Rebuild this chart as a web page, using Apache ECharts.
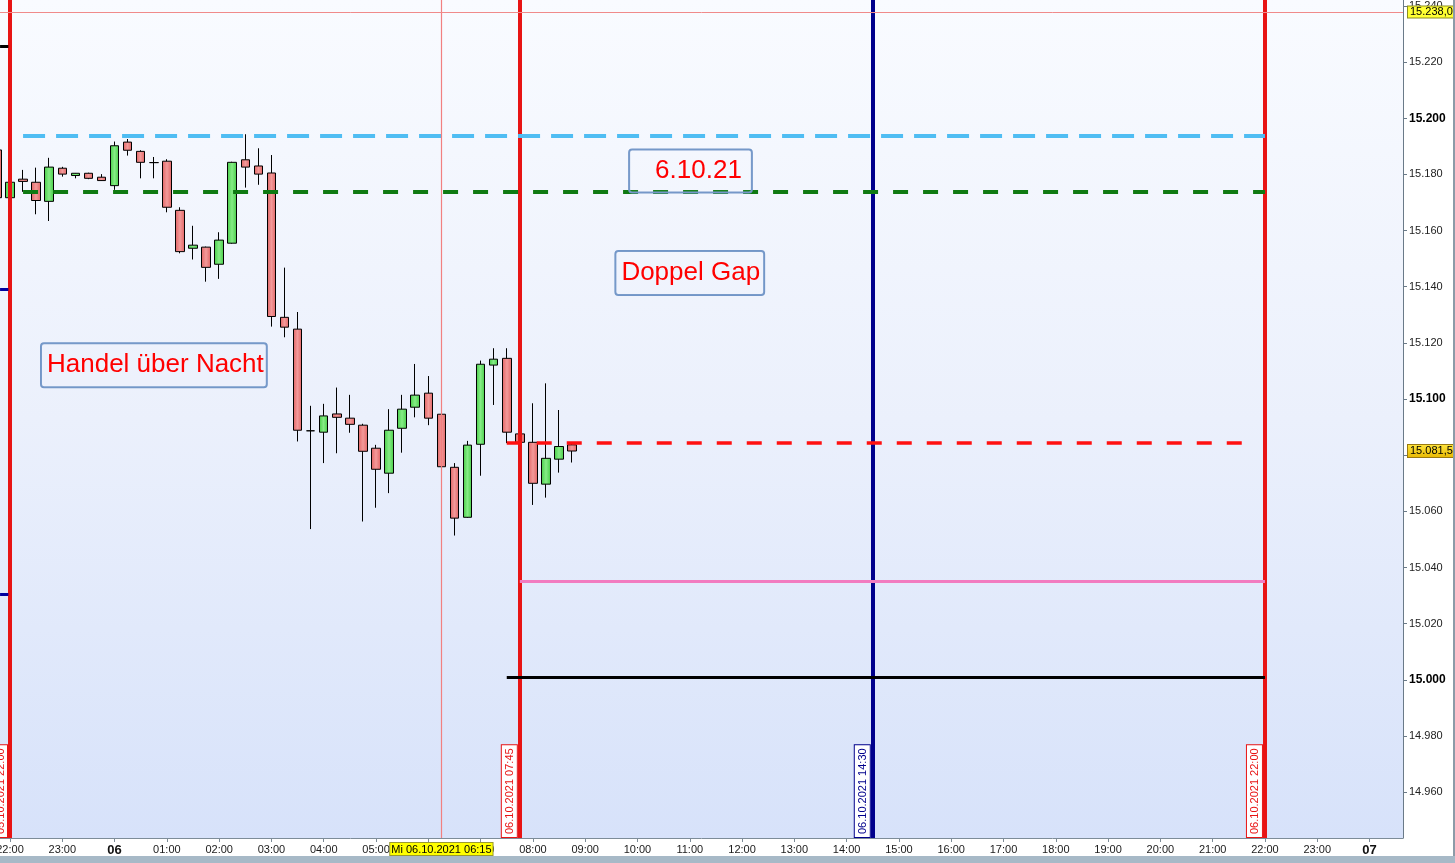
<!DOCTYPE html>
<html><head><meta charset="utf-8">
<script src="https://cdn.jsdelivr.net/npm/echarts@6/dist/echarts.min.js"></script>
<style>html,body{margin:0;padding:0;background:#fff;overflow:hidden}#c{width:1455px;height:863px}</style>
</head><body><div id="c"></div>
<script>
// x values: hours since 05.10.2021 00:00 (24 = 06.10. 00:00)
const candleTimes = [21.75,22,22.25,22.5,22.75,23,23.25,23.5,23.75,24,24.25,24.5,24.75,25,25.25,25.5,25.75,26,26.25,26.5,26.75,27,27.25,27.5,27.75,28,28.25,28.5,28.75,29,29.25,29.5,29.75,30,30.25,30.5,30.75,31,31.25,31.5,31.75,32,32.25,32.5,32.75];
const openVals  = [15188.7,15171.7,15178.3,15177.2,15170.4,15182.2,15179.6,15180.4,15179.0,15176.0,15191.5,15188.2,15184.2,15184.7,15167.2,15153.7,15154.1,15148.0,15155.5,15185.2,15183.0,15180.5,15129.1,15124.9,15088.7,15088.2,15094.7,15093.2,15090.7,15082.5,15073.6,15089.6,15097.1,15102.1,15094.6,15075.7,15057.9,15083.9,15112.1,15114.5,15087.6,15084.6,15069.7,15078.6,15083.7];
const closeVals = [15171.7,15177.2,15177.5,15170.7,15182.6,15180.1,15180.4,15178.6,15177.8,15190.2,15188.6,15184.3,15184.2,15168.3,15152.5,15154.8,15146.9,15156.6,15184.3,15182.6,15180.1,15129.4,15125.6,15088.9,15088.7,15094.0,15093.5,15091.0,15081.4,15075.0,15088.9,15096.4,15101.4,15093.2,15075.9,15057.6,15083.6,15112.4,15114.2,15088.2,15084.6,15070.0,15078.9,15083.1,15081.5];
const lowVals   = [15171.0,15171.5,15173.8,15165.8,15163.4,15179.2,15178.6,15178.3,15177.7,15174.5,15186.7,15178.6,15178.6,15166.5,15151.9,15149.7,15141.8,15142.8,15155.3,15175.3,15176.3,15125.8,15122.0,15084.9,15053.7,15077.2,15080.7,15088.0,15056.4,15061.3,15066.5,15080.9,15093.5,15090.7,15074.8,15051.4,15057.7,15072.7,15097.9,15084.3,15084.4,15062.3,15064.9,15073.8,15077.4];
const highVals  = [15189.5,15177.5,15181.6,15182.4,15185.9,15182.7,15180.5,15180.6,15180.1,15191.7,15192.6,15188.6,15186.2,15185.4,15168.3,15161.7,15154.3,15159.4,15184.5,15194.3,15189.3,15186.9,15146.8,15131.0,15097.6,15098.3,15104.1,15101.5,15091.2,15083.7,15096.4,15101.5,15112.5,15108.2,15100.0,15077.2,15085.1,15113.7,15118.1,15118.1,15087.8,15098.5,15105.6,15096.1,15084.5];

const xTickValues = [22,23,24,25,26,27,28,29,30,31,32,33,34,35,36,37,38,39,40,41,42,43,44,45,46,47,48];
const xTickLabels = ['22:00','23:00','06','01:00','02:00','03:00','04:00','05:00','06:00','07:00','08:00','09:00','10:00','11:00','12:00','13:00','14:00','15:00','16:00','17:00','18:00','19:00','20:00','21:00','22:00','23:00','07'];
const yTickValues = [14960,14980,15000,15020,15040,15060,15080,15100,15120,15140,15160,15180,15200,15220,15240];
const yTickLabels = ['14.960','14.980','15.000','15.020','15.040','15.060','15.080','15.100','15.120','15.140','15.160','15.180','15.200','15.220','15.240'];
const yBoldTicks = [15000,15100,15200];

// vertical time markers
const vLineTimes  = [22, 31.75, 38.5, 46];
const vLineLabels = ['05.10.2021 22:00','06.10.2021 07:45','06.10.2021 14:30','06.10.2021 22:00'];
const vLineColors = ['#e81414','#e81414','#00008c','#e81414'];
// horizontal levels: [price, xStart, xEnd]
const levelBlue  = [15193.7, 22.25, 46];
const levelGreen = [15173.7, 22.25, 46];
const levelRed   = [15084.6, 31.5, 45.6];
const levelPink  = [15035.3, 31.75, 46];
const levelBlack = [15001.1, 31.5, 46];
const leftMarks  = [[15225.5,'#000000'],[15139.1,'#0000a0'],[15030.6,'#0000a0']];
// crosshair & last price
const crossTime = 30.25, crossTimeLabel = 'Mi 06.10.2021 06:15';
const crossPrice = 15237.8, crossPriceLabel = '15.238,0';
const lastPrice = 15081.5, lastPriceLabel = '15.081,5';
// annotations: [x, price, text, padding]
const notes = [
  [35.014, 15181.24, '6.10.21', [5,10,8,26]],
  [35.0, 15144.85, 'Doppel Gap', [6,4,8,6]],
  [24.752, 15112.05, 'Handel über Nacht', [6,3,8,6]]
];

const FONT = '"Liberation Sans", Arial, sans-serif';
const xMin = 21.8088, xMax = 48.64, yMin = 14943.7, yMax = 15242.1;

const candleData = candleTimes.map((t,i)=>[t, openVals[i], closeVals[i], lowVals[i], highVals[i]]);

function grad(c1,c2){
  return new echarts.graphic.LinearGradient(0,0,1,0,[{offset:0,color:c1},{offset:0.5,color:c2},{offset:1,color:c1}]);
}

const markLines = [];
vLineTimes.forEach((t,i)=>{
  markLines.push({
    xAxis: t,
    lineStyle:{color:vLineColors[i], width:4, type:'solid'},
    label:{show:true, position:'insideStartTop', formatter:vLineLabels[i], color:vLineColors[i],
      backgroundColor:'#ffffff', borderColor:vLineColors[i], borderWidth:1, padding:[3,3,1,3],
      fontSize:11, fontFamily:FONT, distance:[1,3]}
  });
});
function seg(lv, color, width, type){
  return [{coord:[lv[1], lv[0]], lineStyle:{color, width, type}, label:{show:false}}, {coord:[lv[2], lv[0]]}];
}
markLines.push(seg(levelBlue,'#4fbdf3',4,[22,11]));
markLines.push(seg(levelGreen,'#0f7a12',4,[15,15]));
markLines.push(seg(levelRed,'#ff1010',3.5,[15,15]));
markLines.push(seg(levelPink,'#f27cc0',3,'solid'));
markLines.push(seg(levelBlack,'#000000',3,'solid'));
leftMarks.forEach(m=>{
  markLines.push([{coord:[xMin+0.001, m[0]], lineStyle:{color:m[1], width:3, type:'solid'}, label:{show:false}}, {coord:[xMin+0.16, m[0]]}]);
});
// vertical crosshair as explicit segment
markLines.push([
  {coord:[crossTime, yMin], lineStyle:{color:'#f28080', width:1.2, type:'solid'},
   label:{show:true, position:'start', formatter:crossTimeLabel, color:'#000', backgroundColor:'#ffff00',
    borderColor:'#9a9a30', borderWidth:1, padding:[1,1,0,1], fontSize:11, fontFamily:FONT, distance:5}},
  {coord:[crossTime, yMax]}
]);
markLines.push({
  yAxis: crossPrice, lineStyle:{color:'#f08a8a', width:1, type:'solid', opacity:1},
  label:{show:true, position:'end', formatter:crossPriceLabel, color:'#000', backgroundColor:'#ffff33',
    borderColor:'#8c8c20', borderWidth:1, padding:[0,1,0,2], fontSize:11, fontFamily:FONT, distance:5}
});
markLines.push({
  yAxis: lastPrice, lineStyle:{color:'rgba(0,0,0,0)', width:0},
  label:{show:true, position:'end', formatter:lastPriceLabel, color:'#000',
    backgroundColor:new echarts.graphic.LinearGradient(0,0,0,1,[{offset:0,color:'#ffe640'},{offset:1,color:'#e8b800'}]),
    borderColor:'#9a7a10', borderWidth:1, padding:[1,1,0,2], fontSize:11, fontFamily:FONT, distance:5}
});

const chart = echarts.init(document.getElementById('c'), null, {renderer:'canvas'});
chart.setOption({
  animation:false,
  backgroundColor:'#ffffff',
  grid:{left:0, right:52, top:0, bottom:25, show:true, borderWidth:0,
    backgroundColor:new echarts.graphic.LinearGradient(0,0,0,1,[{offset:0,color:'#f9fbff'},{offset:0.5,color:'#ebf0fc'},{offset:1,color:'#d7e2fa'}]),
    containLabel:false, outerBoundsMode:'none'},
  xAxis:{type:'value', min:xMin, max:xMax, splitLine:{show:false},
    axisLine:{show:true, onZero:false, lineStyle:{color:'#7d8c98', width:1}},
    axisTick:{show:true, length:4, customValues:xTickValues, lineStyle:{color:'#7d8c98'}},
    axisLabel:{customValues:xTickValues, margin:6, color:'#1a1a1a', fontSize:11, fontFamily:FONT,
      showMinLabel:true, showMaxLabel:true, hideOverlap:false,
      formatter:(v)=>{ const i = xTickValues.indexOf(Math.round(v)); const s = xTickLabels[i];
        return (Math.round(v)%24===0) ? '{b|'+s+'}' : s; },
      rich:{b:{fontSize:13, fontWeight:'bold', fontFamily:FONT, color:'#111'}}}
  },
  yAxis:{type:'value', position:'right', min:yMin, max:yMax, scale:true, splitLine:{show:false},
    axisLine:{show:true, lineStyle:{color:'#6a7a88', width:1}},
    axisTick:{show:true, length:4, customValues:yTickValues, lineStyle:{color:'#6a7a88'}},
    axisLabel:{customValues:yTickValues, margin:6, color:'#222', fontSize:11, fontFamily:FONT,
      showMinLabel:true, showMaxLabel:true, hideOverlap:false,
      formatter:(v)=>{ const i = yTickValues.indexOf(Math.round(v)); const s = yTickLabels[i];
        return yBoldTicks.indexOf(Math.round(v))>=0 ? '{b|'+s+'}' : s; },
      rich:{b:{fontSize:12, fontWeight:'bold', fontFamily:FONT, color:'#000'}}}
  },
  series:[{
    type:'candlestick', name:'FDAX', data:candleData, barWidth:9, clip:true,
    encode:{x:0, y:[1,2,3,4]},
    itemStyle:{color:grad('#45cc45','#86ec86'), color0:grad('#e06262','#f39a9a'),
      borderColor:'#000', borderColor0:'#000', borderWidth:1},
    markLine:{symbol:['none','none'], silent:true, z:5, emphasis:{disabled:true}, blur:{lineStyle:{opacity:1}}, data:markLines},
    markPoint:{silent:true, symbol:'rect', symbolSize:1, itemStyle:{color:'rgba(0,0,0,0)'},
      data: notes.map(n=>({coord:[n[0],n[1]], value:n[2],
        label:{show:true, position:'inside', formatter:n[2], color:'#ff0000', fontSize:26, lineHeight:30,
          fontFamily:FONT, backgroundColor:'rgba(255,255,255,0.05)', borderColor:'#7296c8', borderWidth:1,
          borderRadius:3, padding:n[3]}}))}
  }],
  graphic:[
    {type:'rect', shape:{x:0,y:856,width:1455,height:7}, style:{fill:'#a7b9c7'}, z:100},
    {type:'rect', shape:{x:1453,y:0,width:2,height:856}, style:{fill:'#8c9ba8'}, z:100}
  ]
});
</script></body></html>
